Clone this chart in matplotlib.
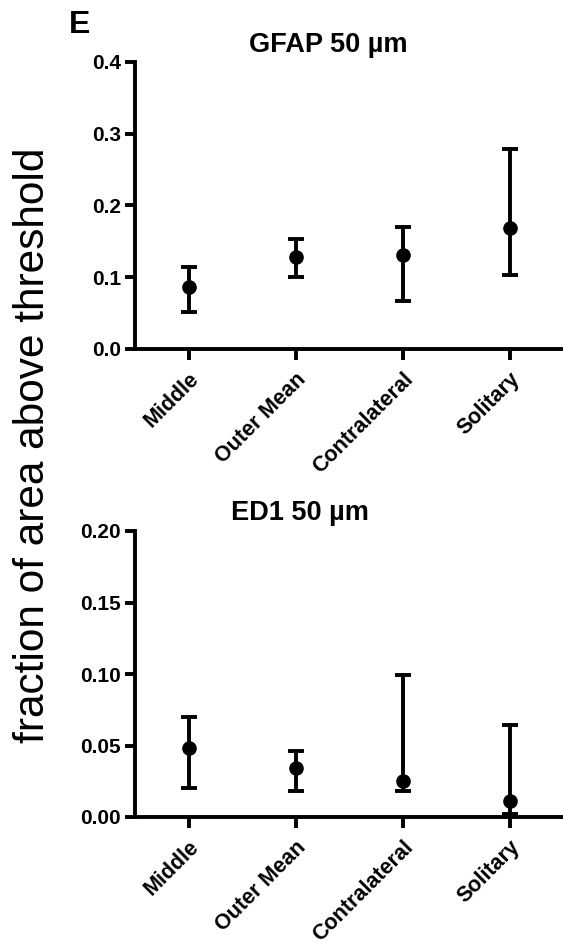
import matplotlib
matplotlib.use("Agg")
import matplotlib.pyplot as plt
import numpy as np

plt.rcParams["font.family"] = ["Liberation Sans", "DejaVu Sans"]

categories = ["Middle", "Outer Mean", "Contralateral", "Solitary"]

gfap_mean = [0.086, 0.128, 0.131, 0.169]
gfap_low = [0.051, 0.100, 0.067, 0.103]
gfap_high = [0.114, 0.153, 0.170, 0.279]
gfap_ticks = [0.0, 0.1, 0.2, 0.3, 0.4]
gfap_ticklabels = ["0.0", "0.1", "0.2", "0.3", "0.4"]

ed1_mean = [0.048, 0.034, 0.025, 0.011]
ed1_low = [0.020, 0.018, 0.018, 0.002]
ed1_high = [0.070, 0.046, 0.0995, 0.064]
ed1_ticks = [0.0, 0.05, 0.10, 0.15, 0.20]
ed1_ticklabels = ["0.00", "0.05", "0.10", "0.15", "0.20"]

W, H = 563, 944


def draw_panel(ax, mean, low, high, ticks, ticklabels):
    x = np.arange(len(categories))
    mean = np.asarray(mean)
    yerr = np.vstack([mean - np.asarray(low), np.asarray(high) - mean])
    ax.errorbar(x, mean, yerr=yerr, fmt="o", color="black", markersize=9.5,
                elinewidth=2.8, capsize=5.5, capthick=2.8, clip_on=False)
    ax.set_xlim(-0.5, 3.5)
    ax.set_ylim(ticks[0], ticks[-1])
    ax.set_yticks(ticks)
    ax.set_yticklabels(ticklabels, fontsize=15, fontweight="bold")
    ax.set_xticks(x)
    ax.set_xticklabels(categories, rotation=45, ha="right", rotation_mode="anchor",
                       fontsize=15.5, fontweight="bold")
    for side in ("top", "right"):
        ax.spines[side].set_visible(False)
    for side in ("left", "bottom"):
        ax.spines[side].set_linewidth(2.8)
    ax.tick_params(axis="both", width=2.8, length=7, pad=3)
    ax.tick_params(axis="x", length=8, pad=6)


fig = plt.figure(figsize=(W / 100, H / 100), dpi=100)

ax_top = fig.add_axes([135 / W, 1 - 349 / H, 1 - 135 / W, (349 - 62) / H])
draw_panel(ax_top, gfap_mean, gfap_low, gfap_high, gfap_ticks, gfap_ticklabels)

ax_bot = fig.add_axes([135 / W, 1 - 817 / H, 1 - 135 / W, (817 - 531) / H])
draw_panel(ax_bot, ed1_mean, ed1_low, ed1_high, ed1_ticks, ed1_ticklabels)

fig.text(328 / W, 1 - 45 / H, "GFAP 50 µm", ha="center", va="center",
         fontsize=19.5, fontweight="bold")
fig.text(300 / W, 1 - 513 / H, "ED1 50 µm", ha="center", va="center",
         fontsize=19.5, fontweight="bold")
fig.text(80 / W, 1 - 25 / H, "E", ha="center", va="center",
         fontsize=23, fontweight="bold")
fig.text(33 / W, 1 - 445 / H, "fraction of area above threshold", rotation=90,
         ha="center", va="center", fontsize=30.5)

fig.savefig("out.png", dpi=100)
